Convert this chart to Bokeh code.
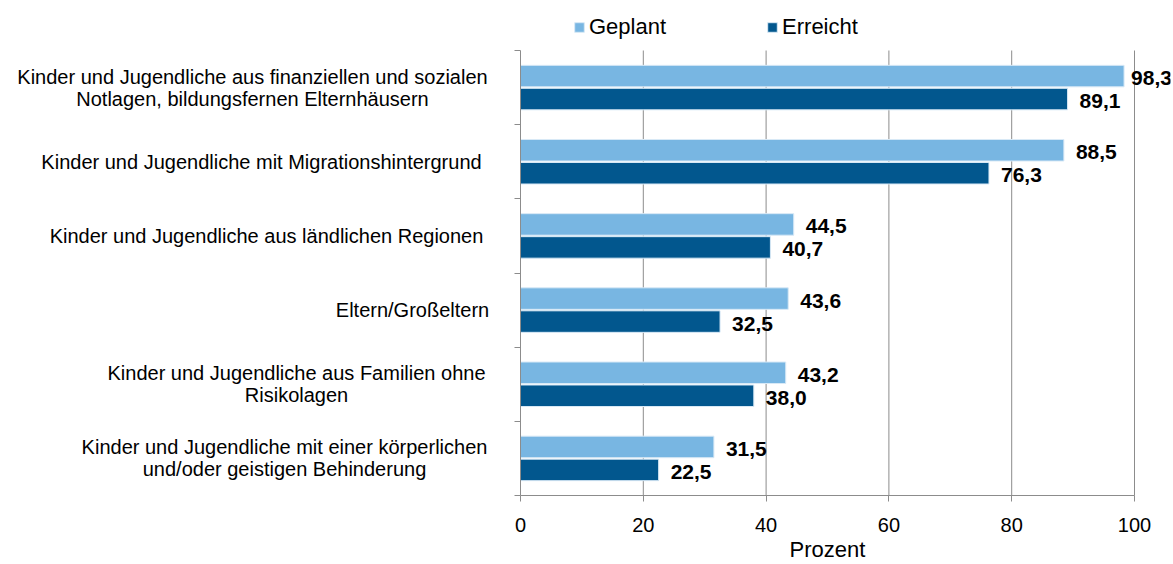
from bokeh.plotting import figure
from bokeh.models import (ColumnDataSource, FixedTicker, Legend, LegendItem,
                          LabelSet, Label, Range1d)
from bokeh.core.properties import value
from bokeh.embed import file_html
from bokeh.resources import INLINE

categories = [
    "Kinder und Jugendliche aus finanziellen und sozialen\nNotlagen, bildungsfernen Elternhäusern",
    "Kinder und Jugendliche mit Migrationshintergrund",
    "Kinder und Jugendliche aus ländlichen Regionen",
    "Eltern/Großeltern",
    "Kinder und Jugendliche aus Familien ohne\nRisikolagen",
    "Kinder und Jugendliche mit einer körperlichen\nund/oder geistigen Behinderung",
]
geplant = [98.3, 88.5, 44.5, 43.6, 43.2, 31.5]
erreicht = [89.1, 76.3, 40.7, 32.5, 38.0, 22.5]
x_ticks = [0, 20, 40, 60, 80, 100]
series_names = ["Geplant", "Erreicht"]
x_label = "Prozent"

LIGHT = "#78B6E2"
DARK = "#02578E"
GRID = "#8C8C8C"
FONT = "Liberation Sans"

n = len(categories)
# layout (pixels)
PX_X = 6.14          # px per percent
PX_Y = 445 / n       # px per category band
LEFT_SPACE = 516     # px between frame left and value 0
RIGHT_SPACE = 36     # px right of value 100 (room for value labels)
TOP_SPACE = 46       # px above the top category band (legend)
BOTTOM_SPACE = 68    # px below the chart area (tick labels, axis title)

x_start = -LEFT_SPACE / PX_X
x_end = x_ticks[-1] + RIGHT_SPACE / PX_X
y_start = -BOTTOM_SPACE / PX_Y
y_end = n + TOP_SPACE / PX_Y

centers = [n - i - 0.5 for i in range(n)]
off = 0.155
bh = 0.29

def fmt(v):
    return ("%.1f" % v).replace(".", ",")

src_g = ColumnDataSource(dict(y=[c + off for c in centers], v=geplant,
                              t=[fmt(v) for v in geplant],
                              xo=[7 if v > 95 else 12 for v in geplant]))
src_e = ColumnDataSource(dict(y=[c - off for c in centers], v=erreicht,
                              t=[fmt(v) for v in erreicht],
                              xo=[7 if v > 95 else 12 for v in erreicht]))

fw = int(round((x_end - x_start) * PX_X))
fh = int(round((y_end - y_start) * PX_Y))
p = figure(frame_width=fw, frame_height=fh, output_backend="svg",
           toolbar_location=None, x_range=Range1d(x_start, x_end),
           y_range=Range1d(y_start, y_end),
           min_border_left=4, min_border_top=4, min_border_right=2,
           min_border_bottom=0)
p.outline_line_color = None
p.background_fill_color = "white"
p.xgrid.grid_line_color = None
p.ygrid.grid_line_color = None

# vertical grid lines inside the chart area only
gx = x_ticks[1:]
p.segment(x0=gx, x1=gx, y0=[0] * len(gx), y1=[n] * len(gx),
          line_color=GRID, line_width=1)

rg = p.hbar(y="y", right="v", left=0, height=bh, source=src_g,
            fill_color=LIGHT, line_color="#D8E9F6", line_width=1)
re = p.hbar(y="y", right="v", left=0, height=bh, source=src_e,
            fill_color=DARK, line_color="#D8E9F6", line_width=1)

for s in (src_g, src_e):
    p.add_layout(LabelSet(x="v", y="y", text="t", source=s, x_offset="xo",
                          y_offset=-2, text_align="left", text_baseline="middle",
                          text_font=value(FONT), text_font_size=value("21px"),
                          text_font_style=value("bold"), text_color="black"))

# category labels (lines centered, block ending near the axis)
label_offsets = [-268, -259, -254, -108, -224, -236]
for c, txt, xo in zip(centers, categories, label_offsets):
    p.add_layout(Label(x=0, y=c, x_offset=xo, text=txt, text_align="center",
                       text_baseline="middle", text_font=FONT,
                       text_font_size="20px", text_color="black",
                       text_line_height=1.0))

# bottom axis at value 0 of the category scale
p.xaxis.fixed_location = 0
p.xaxis.bounds = (x_ticks[0], x_ticks[-1])
p.xaxis.ticker = FixedTicker(ticks=x_ticks)
p.xaxis.axis_line_color = GRID
p.xaxis.major_tick_line_color = GRID
p.xaxis.major_tick_out = 6
p.xaxis.major_tick_in = 0
p.xaxis.minor_tick_line_color = None
p.xaxis.major_label_text_font = FONT
p.xaxis.major_label_text_font_size = "20px"
p.xaxis.major_label_text_color = "black"
p.xaxis.major_label_standoff = 16

# axis title centred under the 0..100 scale
p.add_layout(Label(x=(x_ticks[0] + x_ticks[-1]) / 2, y=0, y_offset=-54,
                   text=x_label, text_align="center", text_baseline="middle",
                   text_font=FONT, text_font_size="22px", text_color="black"))

# left (category) axis at value 0
p.yaxis.fixed_location = 0
p.yaxis.bounds = (0, n)
p.yaxis.ticker = FixedTicker(ticks=list(range(n + 1)))
p.yaxis.axis_line_color = GRID
p.yaxis.major_tick_line_color = GRID
p.yaxis.major_tick_out = 6
p.yaxis.major_tick_in = 0
p.yaxis.minor_tick_line_color = None
p.yaxis.major_label_text_color = None
p.yaxis.major_label_text_font_size = "1px"

legend = Legend(items=[LegendItem(label=series_names[0], renderers=[rg]),
                       LegendItem(label=series_names[1], renderers=[re])],
                orientation="horizontal",
                location=(LEFT_SPACE + 53, BOTTOM_SPACE + n * PX_Y + 10),
                glyph_width=12, glyph_height=12, label_standoff=4, spacing=100,
                padding=0, margin=0, border_line_color=None,
                background_fill_alpha=0, label_text_font=FONT,
                label_text_font_size="22px", label_text_color="black",
                label_height=24)
p.add_layout(legend, "center")

open("out.html", "w").write(file_html(p, INLINE))
